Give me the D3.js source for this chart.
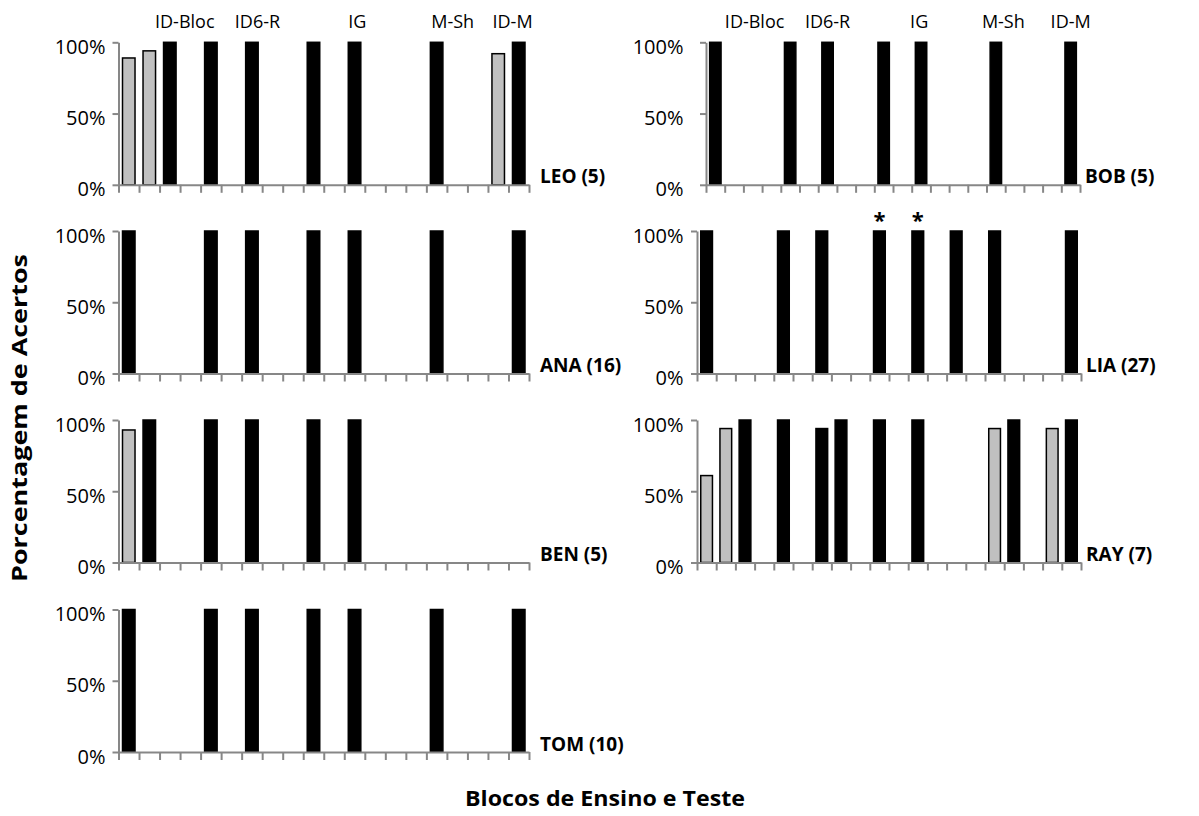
<!DOCTYPE html>
<html>
<head>
<meta charset="utf-8">
<script src="https://cdn.jsdelivr.net/npm/d3@7"></script>
<style>
  html, body { margin: 0; padding: 0; background: #fff; }
  svg { display: block; }
  text { font-family: "Open Sans", "DejaVu Sans", sans-serif; }
</style>
</head>
<body>
<svg id="chart" width="1199" height="816"></svg>
<script>
// ---------- DATA ----------
const _ = null;
const blocks = ["1","2","3","4","5","6","7","8","9","10","11","12","13","14","15","16","17","18","19","20"];
const yTicks = [0, 0.5, 1];
const blockLabels = ["ID-Bloc", "ID6-R", "IG", "M-Sh", "ID-M"];
const participants = ["LEO (5)", "BOB (5)", "ANA (16)", "LIA (27)", "BEN (5)", "RAY (7)", "TOM (10)"];

const leoBlack = [_,_,100,_,100,_,100,_,_,100,_,100,_,_,_,100,_,_,_,100];
const leoGray  = [89,94,_,_,_,_,_,_,_,_,_,_,_,_,_,_,_,_,92,_];
const bobBlack = [100,_,_,_,100,_,100,_,_,100,_,100,_,_,_,100,_,_,_,100];
const bobGray  = [_,_,_,_,_,_,_,_,_,_,_,_,_,_,_,_,_,_,_,_];
const anaBlack = [100,_,_,_,100,_,100,_,_,100,_,100,_,_,_,100,_,_,_,100];
const anaGray  = [_,_,_,_,_,_,_,_,_,_,_,_,_,_,_,_,_,_,_,_];
const liaBlack = [100,_,_,_,100,_,100,_,_,100,_,100,_,100,_,100,_,_,_,100];
const liaGray  = [_,_,_,_,_,_,_,_,_,_,_,_,_,_,_,_,_,_,_,_];
const benBlack = [_,100,_,_,100,_,100,_,_,100,_,100,_,_,_,_,_,_,_,_];
const benGray  = [93,_,_,_,_,_,_,_,_,_,_,_,_,_,_,_,_,_,_,_];
const rayBlack = [_,_,100,_,100,_,94,100,_,100,_,100,_,_,_,_,100,_,_,100];
const rayGray  = [61,94,_,_,_,_,_,_,_,_,_,_,_,_,_,94,_,_,94,_];
const tomBlack = [100,_,_,_,100,_,100,_,_,100,_,100,_,_,_,100,_,_,_,100];
const tomGray  = [_,_,_,_,_,_,_,_,_,_,_,_,_,_,_,_,_,_,_,_];
const liaMarks = [9, 11];   // blocks with "*"

const xTitle = "Blocos de Ensino e Teste";
const yTitle = "Porcentagem de Acertos";

// ---------- LAYOUT ----------
const rowTop = [42.3, 231, 420, 609.5];
const rowH = 142.5;
const panels = [
  { name: participants[0], black: leoBlack, gray: leoGray, x0: 118.5, x1: 529, row: 0, labelX: 105.5, top: [3.23, 6.77, 11.64, 16.28, 19.2] },
  { name: participants[1], black: bobBlack, gray: bobGray, x0: 706, x1: 1080, row: 0, labelX: 683.5, top: [2.6, 6.5, 11.4, 15.9, 19.5] },
  { name: participants[2], black: anaBlack, gray: anaGray, x0: 118.5, x1: 529, row: 1, labelX: 105.5 },
  { name: participants[3], black: liaBlack, gray: liaGray, x0: 697, x1: 1081, row: 1, labelX: 683.5, marks: liaMarks },
  { name: participants[4], black: benBlack, gray: benGray, x0: 118.5, x1: 529, row: 2, labelX: 105.5 },
  { name: participants[5], black: rayBlack, gray: rayGray, x0: 697, x1: 1081, row: 2, labelX: 683.5 },
  { name: participants[6], black: tomBlack, gray: tomGray, x0: 118.5, x1: 529, row: 3, labelX: 105.5 }
];
const axisColor = "#878787";

const svg = d3.select("#chart");
svg.append("rect").attr("width", 1199).attr("height", 816).attr("fill", "#fff");

panels.forEach(p => {
  const y0 = rowTop[p.row], y1 = y0 + rowH;
  const x = d3.scaleBand().domain(blocks).range([p.x0, p.x1]).paddingInner(0.39).paddingOuter(0.195);
  const xt = d3.scaleLinear().domain([0, blocks.length]).range([p.x0, p.x1]);
  const y = d3.scaleLinear().domain([0, 1]).range([y1, y0]);
  const g = svg.append("g");

  // bars
  const bars = [];
  blocks.forEach((b, i) => {
    if (p.gray[i] != null) bars.push({ b, v: p.gray[i] / 100, fill: "#c0c0c0" });
    if (p.black[i] != null) bars.push({ b, v: p.black[i] / 100, fill: "#000" });
  });
  g.selectAll("rect.bar").data(bars).join("rect")
    .attr("class", "bar")
    .attr("x", d => x(d.b))
    .attr("width", x.bandwidth())
    .attr("y", d => y(d.v))
    .attr("height", d => y(0) - y(d.v))
    .attr("fill", d => d.fill)
    .attr("stroke", "#000")
    .attr("stroke-width", 1.5);

  // y axis
  const ya = g.append("g").attr("transform", `translate(${p.x0},0)`)
    .call(d3.axisLeft(y).tickValues(yTicks).tickFormat(d3.format(".0%")).tickSize(6).tickSizeOuter(0));
  ya.select(".domain").attr("stroke", axisColor).attr("stroke-width", 2);
  ya.selectAll(".tick line").attr("stroke", axisColor).attr("stroke-width", 2);
  ya.selectAll(".tick text")
    .attr("x", p.labelX - p.x0)
    .attr("dy", "0.55em")
    .attr("fill", "#000")
    .style("font-size", "20px")
    .style("font-family", "'Open Sans', sans-serif");

  // x axis (ticks at block boundaries)
  const xa = g.append("g").attr("transform", `translate(0,${y1})`)
    .call(d3.axisBottom(xt).tickValues(d3.range(blocks.length + 1)).tickFormat("").tickSize(8).tickSizeOuter(0));
  xa.select(".domain").attr("stroke", axisColor).attr("stroke-width", 2);
  xa.selectAll(".tick line").attr("stroke", axisColor).attr("stroke-width", 2);

  // participant name
  g.append("text")
    .attr("x", p.x1 + (p.x0 < 300 ? 11 : 5))
    .attr("y", y1 - 1.5)
    .attr("font-weight", "bold")
    .style("font-size", "19px")
    .text(p.name);

  // block labels on top row
  if (p.top) {
    g.selectAll("text.blk").data(blockLabels).join("text")
      .attr("class", "blk")
      .attr("x", (d, i) => xt(p.top[i]))
      .attr("y", 28.3)
      .attr("text-anchor", "middle")
      .style("font-size", "18px")
      .text(d => d);
  }

  // asterisks
  if (p.marks) {
    g.selectAll("text.mark").data(p.marks).join("text")
      .attr("class", "mark")
      .attr("x", d => x(blocks[d]) + x.bandwidth() / 2)
      .attr("y", y0 - 3)
      .attr("text-anchor", "middle")
      .attr("font-weight", "bold")
      .style("font-size", "22px")
      .text("*");
  }
});

// axis titles
svg.append("text")
  .attr("transform", "translate(27,418) rotate(-90)")
  .attr("text-anchor", "middle")
  .attr("font-weight", "bold")
  .style("font-size", "22px")
  .attr("textLength", 328)
  .attr("lengthAdjust", "spacingAndGlyphs")
  .text(yTitle);

svg.append("text")
  .attr("x", 605)
  .attr("y", 806)
  .attr("text-anchor", "middle")
  .attr("font-weight", "bold")
  .style("font-size", "22px")
  .attr("textLength", 280)
  .attr("lengthAdjust", "spacingAndGlyphs")
  .text(xTitle);
</script>
</body>
</html>
